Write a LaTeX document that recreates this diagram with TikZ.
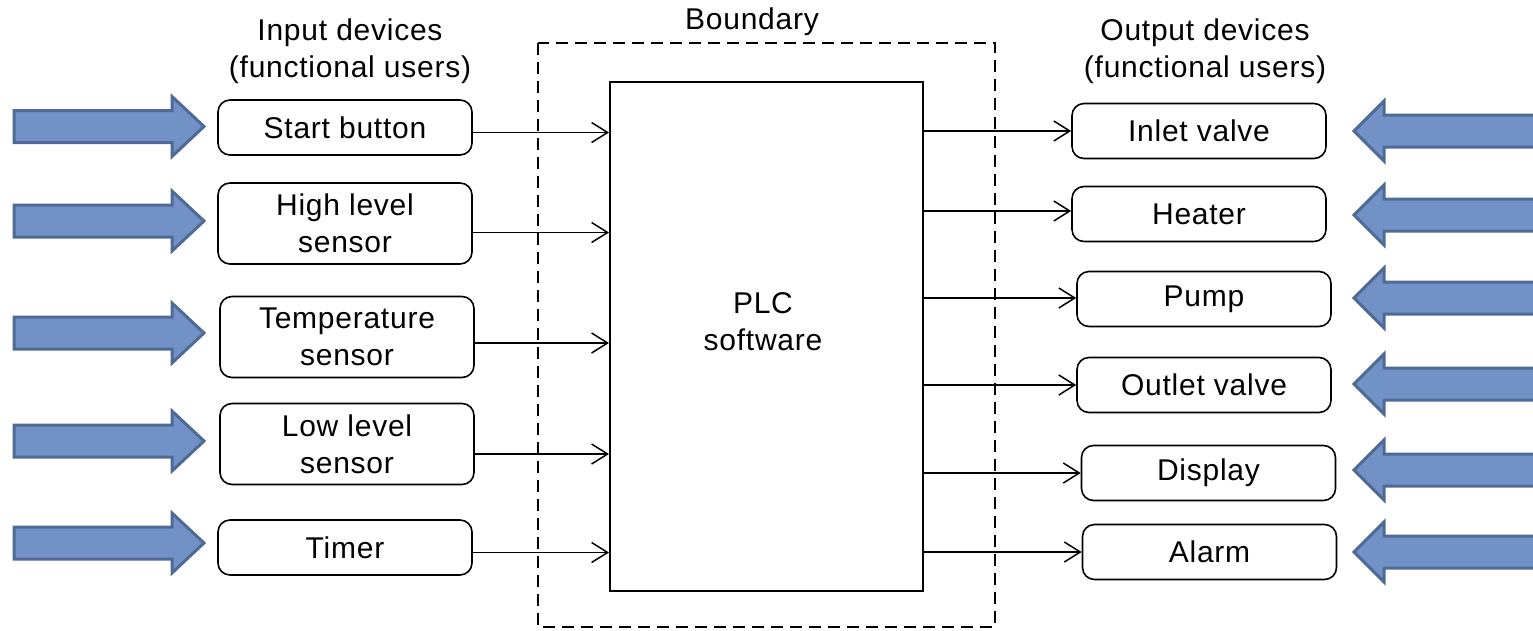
\documentclass[tikz,border=0pt]{standalone}
\usepackage{fontspec}
\setmainfont{Liberation Sans}[LetterSpace=2.5]
\usetikzlibrary{arrows.meta}
\definecolor{arrfill}{HTML}{7291C6}
\definecolor{arrline}{HTML}{4F6A96}
\begin{document}
\begin{tikzpicture}[x=1pt,y=-1pt,
  every node/.style={font=\fontsize{30}{37}\selectfont},
  devbox/.style={draw=black,line width=1.6pt,rounded corners=12pt,minimum width=254pt,minimum height=55pt,inner sep=0pt,align=center},
  tallbox/.style={devbox,minimum height=81pt},
  conn/.style={draw=black,line width=1.5pt,-{Straight Barb[length=16pt,width=20pt,line width=1.5pt]}},
  blockarrow/.style={fill=arrfill,draw=arrline,line width=3pt,line join=miter}]
\useasboundingbox (0,0) rectangle (1533,630);
% boundary
\draw[line width=1.8pt,dash pattern=on 12pt off 7pt] (538,43) rectangle (995,627);
\node (boundary) at (752,22) {Boundary};
% PLC
\node[draw=black,line width=2pt,minimum width=313pt,minimum height=509pt,inner sep=0pt] (plc) at (766.5,336.5) {};
\node[align=center] (plctext) at (763,322) {PLC\\software};
% headers
\node[align=center] (inhead) at (350,51) {Input devices\\(functional users)};
\node[align=center] (outhead) at (1205,51) {Output devices\\(functional users)};
% input devices
\node[devbox] (start) at (345,127.5) {Start button};
\node[tallbox] (high) at (345,223.5) {High level\\sensor};
\node[tallbox] (temp) at (347,337) {Temperature\\sensor};
\node[tallbox] (low) at (347,444) {Low level\\sensor};
\node[devbox] (timer) at (345,547.5) {Timer};
% output devices
\node[devbox] (inlet) at (1199,131) {Inlet valve};
\node[devbox] (heater) at (1199,214) {Heater};
\node[devbox] (pump) at (1204,299) {Pump};
\node[devbox] (outlet) at (1204,385) {Outlet valve};
\node[devbox] (display) at (1208.5,473) {Display};
\node[devbox] (alarm) at (1209.5,552) {Alarm};
% input connectors
\draw[conn] ([yshift=-5pt]start.east) -- ([yshift=-5pt]start.east -| plc.west);
\draw[conn] ([yshift=-9pt]high.east) -- ([yshift=-9pt]high.east -| plc.west);
\draw[conn] ([yshift=-6pt]temp.east) -- ([yshift=-6pt]temp.east -| plc.west);
\draw[conn] ([yshift=-10pt]low.east) -- ([yshift=-10pt]low.east -| plc.west);
\draw[conn] ([yshift=-5pt]timer.east) -- ([yshift=-5pt]timer.east -| plc.west);
% output connectors
\draw[conn] (plc.east |- inlet.west) -- (inlet.west);
\draw[conn] ([yshift=3pt]plc.east |- heater.west) -- ([yshift=3pt]heater.west);
\draw[conn] ([yshift=1pt]plc.east |- pump.west) -- ([yshift=1pt]pump.west);
\draw[conn] (plc.east |- outlet.west) -- (outlet.west);
\draw[conn] (plc.east |- display.west) -- (display.west);
\draw[conn] (plc.east |- alarm.west) -- (alarm.west);
% block arrows left
\foreach \cy in {126.5,221,333,441,543}{
  \draw[blockarrow] (14,\cy-16) -- (172,\cy-16) -- (172,\cy-30) -- (204,\cy) -- (172,\cy+30) -- (172,\cy+16) -- (14,\cy+16) -- cycle;
}
% block arrows right
\foreach \cy in {131,215,298,384,470,552}{
  \draw[blockarrow] (1545,\cy-16) -- (1384,\cy-16) -- (1384,\cy-30) -- (1354,\cy) -- (1384,\cy+30) -- (1384,\cy+16) -- (1545,\cy+16) -- cycle;
}
\end{tikzpicture}
\end{document}
